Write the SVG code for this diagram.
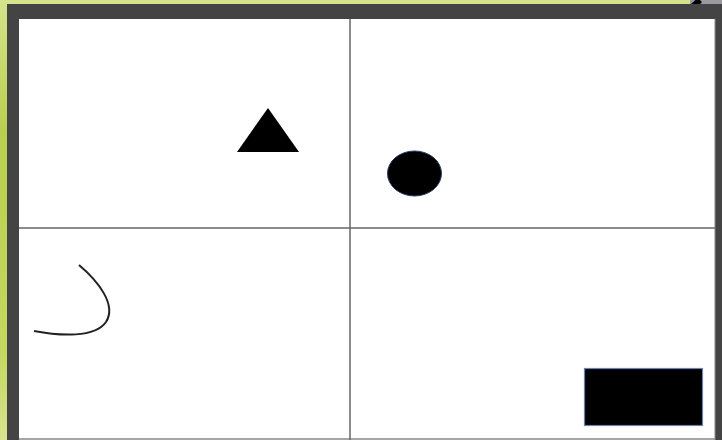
<svg xmlns="http://www.w3.org/2000/svg" width="722" height="440" viewBox="0 0 722 440">
<defs>
<linearGradient id="bg" x1="0" y1="0" x2="0" y2="1">
<stop offset="0" stop-color="#d6e38c"/>
<stop offset="0.3" stop-color="#b9cf4e"/>
<stop offset="0.8" stop-color="#c4d760"/>
<stop offset="1" stop-color="#d8e48e"/>
</linearGradient>
<style>
.grid{stroke:#666;stroke-width:1.5;fill:none}
.shape{fill:#000}
</style>
</defs>
<rect x="0" y="0" width="722" height="440" fill="url(#bg)"/>
<rect x="690" y="0" width="32" height="7" fill="#9a9a9e"/>
<path d="M692,7 L700,0" stroke="#000" stroke-width="6"/>
<rect x="7" y="4" width="715" height="436" fill="#444"/>
<rect x="19" y="19" width="696" height="421" fill="#fff"/>
<line x1="715" y1="19" x2="715" y2="440" stroke="#888" stroke-width="1"/>
<line x1="19" y1="439" x2="715" y2="439" stroke="#888" stroke-width="1.5"/>
<g id="grid">
<line class="grid" x1="350" y1="19" x2="350" y2="440"/>
<line class="grid" x1="19" y1="228" x2="715" y2="228"/>
</g>
<g id="triangle"><polygon class="shape" points="268,108 237,152 299,152"/></g>
<g id="circle"><ellipse class="shape" cx="414.5" cy="173.5" rx="27" ry="22.5" stroke="#2a3a6a" stroke-width="1"/></g>
<g id="rectangle"><rect class="shape" x="584.5" y="368.5" width="118" height="57" stroke="#6a82ac" stroke-width="1.2"/></g>
<g id="curve"><path d="M79,265 C98,281 117,305 106,322 C95,338 60,336 34,331" fill="none" stroke="#222" stroke-width="2"/></g>
</svg>
